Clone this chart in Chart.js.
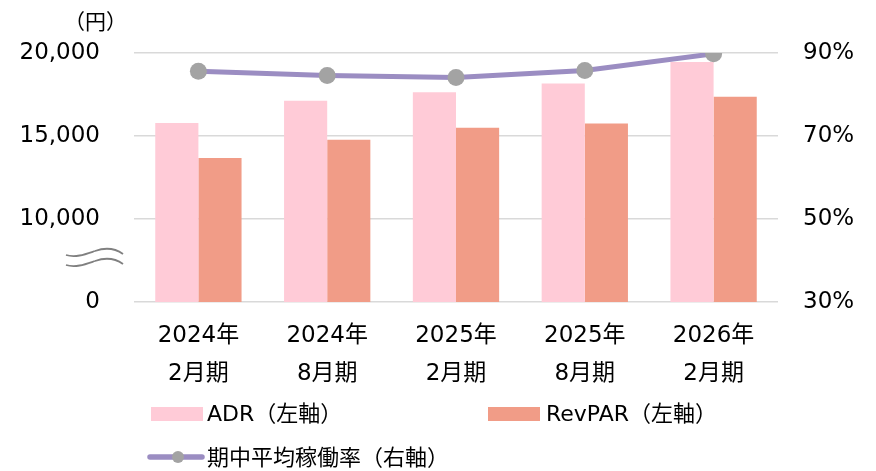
<!DOCTYPE html>
<html>
<head>
<meta charset="utf-8">
<script src="https://cdn.jsdelivr.net/npm/chart.js@4"></script>
<style>
	body { margin: 0; background: #fff; }
	#wrap { position: relative; width: 876px; height: 471px; font-family: "DejaVu Sans", "Noto Sans CJK JP", sans-serif; color: #000; }
	.lbl { position: absolute; font-size: 22px; line-height: 24px; white-space: nowrap; }
	.box { position: absolute; width: 52px; height: 14px; }
</style>
</head>
<body>
<div id="wrap">
	<canvas id="chart"></canvas>
	<div class="lbl" style="left:64px; top:10px; font-size:21px;">（円）</div>
	<div class="box" style="left:151px; top:407px; background:#FFCBD7;"></div>
	<div class="lbl" style="left:207px; top:402px;">ADR（左軸）</div>
	<div class="box" style="left:488px; top:407px; background:#F19C87;"></div>
	<div class="lbl" style="left:546px; top:402px;">RevPAR（左軸）</div>
	<div class="lbl" style="left:207px; top:446px;">期中平均稼働率（右軸）</div>
	<canvas id="legLine" width="64" height="20" style="position:absolute; left:144px; top:447px;"></canvas>
</div>
<script>
const categories = [['2024年', '2月期'], ['2024年', '8月期'], ['2025年', '2月期'], ['2025年', '8月期'], ['2026年', '2月期']];
const adr = [15790, 17120, 17640, 18170, 19460];
const revpar = [13670, 14780, 15500, 15760, 17360];
const occupancy = [85.6, 84.6, 84.1, 85.8, 89.8];
const leftTicks = [5000, 10000, 15000, 20000];
const rightTicks = [30, 50, 70, 90];

const FONT = '"DejaVu Sans", "Noto Sans CJK JP", sans-serif';
const LINE_COLOR = '#9B8DC2';
const POINT_COLOR = '#A3A3A3';

// the "≈" mark for the broken left axis
const breakMark = {
	id: 'breakMark',
	afterDraw(chart) {
		const ctx = chart.ctx;
		ctx.save();
		ctx.strokeStyle = '#808080';
		ctx.lineWidth = 1.8;
		[0, 10].forEach(dy => {
			ctx.beginPath();
			ctx.moveTo(66, 255 + dy);
			ctx.bezierCurveTo(76, 258 + dy, 86, 254 + dy, 95, 251 + dy);
			ctx.bezierCurveTo(106, 247 + dy, 116, 249 + dy, 123, 254 + dy);
			ctx.stroke();
		});
		ctx.restore();
	}
};

new Chart(document.getElementById('chart'), {
	type: 'bar',
	data: {
		labels: categories,
		datasets: [
			{
				type: 'line',
				label: '期中平均稼働率（右軸）',
				data: occupancy,
				yAxisID: 'y1',
				borderColor: LINE_COLOR,
				borderWidth: 5,
				tension: 0,
				pointRadius: 8.5,
				pointBackgroundColor: POINT_COLOR,
				pointBorderWidth: 0,
				order: 0
			},
			{
				label: 'ADR（左軸）',
				data: adr,
				yAxisID: 'y',
				backgroundColor: '#FFCBD7',
				categoryPercentage: 0.67,
				barPercentage: 1,
				order: 1
			},
			{
				label: 'RevPAR（左軸）',
				data: revpar,
				yAxisID: 'y',
				backgroundColor: '#F19C87',
				categoryPercentage: 0.67,
				barPercentage: 1,
				order: 1
			}
		]
	},
	options: {
		responsive: true,
		maintainAspectRatio: false,
		animation: false,
		layout: { padding: { top: 53, left: 0, right: 0, bottom: 0 } },
		plugins: { legend: { display: false }, tooltip: { enabled: false } },
		scales: {
			x: {
				grid: { display: false },
				border: { display: false },
				ticks: { color: '#000', padding: 7, font: { family: FONT, size: 23, lineHeight: 38 / 23 } },
				afterFit: s => { s.height = 169; }
			},
			y: {
				position: 'left',
				min: 5000,
				max: 20000,
				afterBuildTicks: s => { s.ticks = leftTicks.map(v => ({ value: v })); },
				grid: { color: '#D9D9D9', lineWidth: 1.5, drawTicks: false },
				border: { display: false },
				ticks: {
					color: '#000',
					padding: 34,
					font: { family: FONT, size: 23 },
					callback: v => v === 5000 ? '0' : v.toLocaleString('en-US')
				},
				afterFit: s => { s.width = 134; }
			},
			y1: {
				position: 'right',
				min: 30,
				max: 90,
				afterBuildTicks: s => { s.ticks = rightTicks.map(v => ({ value: v })); },
				grid: { display: false, drawTicks: false },
				border: { display: false },
				ticks: {
					color: '#000',
					padding: 25,
					font: { family: FONT, size: 23 },
					callback: v => v + '%'
				},
				afterFit: s => { s.width = 98; }
			}
		}
	},
	plugins: [breakMark]
});

// line + marker sample for the third legend item
const lc = document.getElementById('legLine').getContext('2d');
lc.strokeStyle = LINE_COLOR;
lc.lineWidth = 5.5;
lc.lineCap = 'round';
lc.beginPath();
lc.moveTo(6, 10);
lc.lineTo(58, 10);
lc.stroke();
lc.fillStyle = POINT_COLOR;
lc.beginPath();
lc.arc(34, 10, 6, 0, Math.PI * 2);
lc.fill();
</script>
</body>
</html>
